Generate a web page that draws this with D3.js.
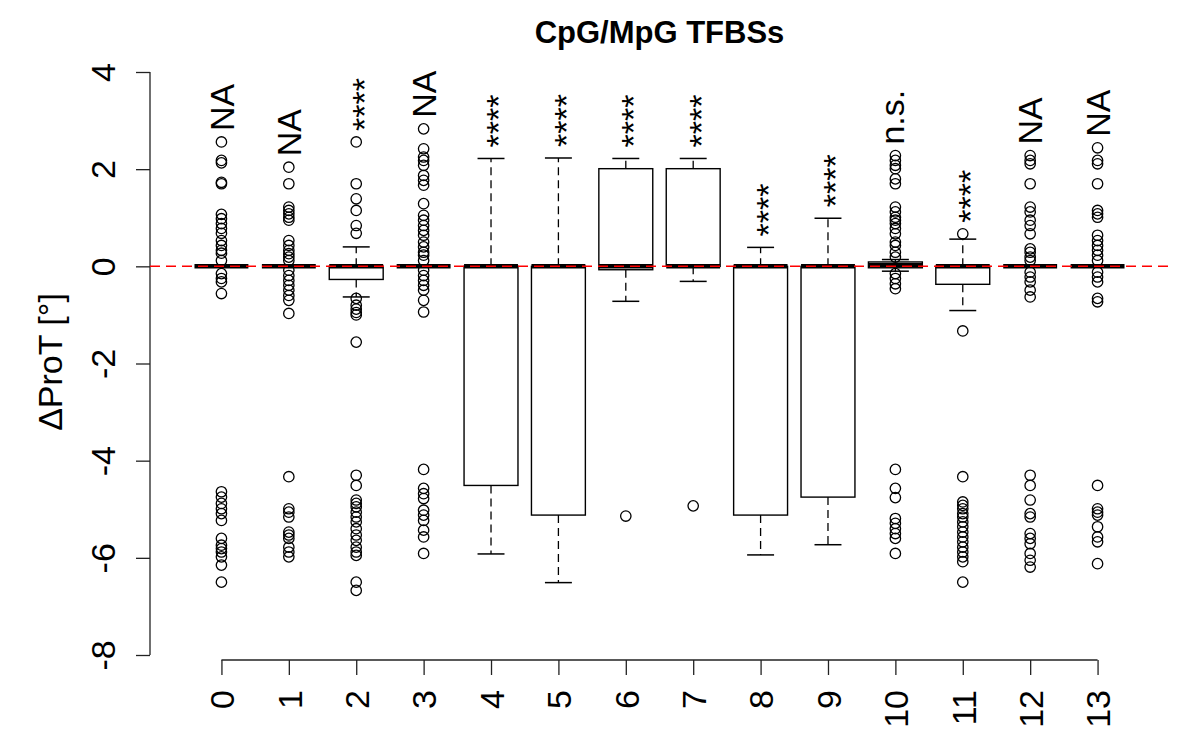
<!DOCTYPE html>
<html>
<head>
<meta charset="utf-8">
<script src="https://cdn.jsdelivr.net/npm/d3@7"></script>
<style>
  html, body { margin: 0; padding: 0; background: #fff; }
  svg { display: block; font-family: "Liberation Sans", Arial, Helvetica, sans-serif; }
</style>
</head>
<body>
<svg id="chart" width="1200" height="750"></svg>
<script>
// ---------- data ----------
const categories = ["0","1","2","3","4","5","6","7","8","9","10","11","12","13"];
const q1          = [0, 0, -0.27, 0, -4.51, -5.12, -0.07, 0, -5.12, -4.75, -0.03, -0.37, 0, 0];
const medians     = [0, 0, 0, 0, 0, 0, 0, 0, 0, 0, 0.02, 0, 0, 0];
const q3          = [0, 0, 0, 0, 0, 0, 2.01, 2.01, 0, 0, 0.09, 0, 0, 0];
const whiskerLow  = [0, 0, -0.63, 0, -5.92, -6.51, -0.72, -0.31, -5.94, -5.73, -0.10, -0.91, 0, 0];
const whiskerHigh = [0, 0, 0.40, 0, 2.22, 2.23, 2.22, 2.22, 0.39, 0.99, 0.14, 0.56, 0, 0];
const outliers = [
  [2.56, 2.18, 2.13, 1.73, 1.70, 1.07, 0.98, 0.88, 0.78, 0.68, 0.53, 0.43, 0.33, 0.27, 0.12,
   -0.15, -0.25, -0.32, -0.56,
   -4.64, -4.75, -4.88, -4.99, -5.09, -5.23, -5.60, -5.74, -5.81, -5.88, -5.98, -6.15, -6.50],
  [2.04, 1.70, 1.22, 1.15, 1.08, 1.01, 0.95, 0.53, 0.43, 0.33, 0.26, 0.19, 0.12,
   -0.08, -0.19, -0.29, -0.39, -0.49, -0.60, -0.70, -0.97,
   -4.33, -4.99, -5.06, -5.16, -5.47, -5.53, -5.60, -5.78, -5.88, -5.98],
  [2.56, 1.70, 1.39, 1.15, 0.84, 0.68,
   -0.66, -0.80, -0.88, -0.95, -1.00, -1.56,
   -4.30, -4.51, -4.81, -4.88, -4.95, -5.06, -5.16, -5.26, -5.40, -5.53, -5.64, -5.78, -5.88, -5.95, -6.50, -6.67],
  [2.83, 2.42, 2.25, 2.18, 2.08, 1.87, 1.77, 1.67, 1.29, 1.05, 0.95, 0.84, 0.74, 0.64, 0.50, 0.40, 0.29, 0.23, 0.12,
   -0.08, -0.19, -0.29, -0.39, -0.49, -0.70, -0.94,
   -4.18, -4.57, -4.68, -4.78, -5.02, -5.12, -5.23, -5.43, -5.57, -5.91],
  [],
  [],
  [-5.14],
  [-4.93],
  [],
  [],
  [2.28, 2.18, 2.08, 2.01, 1.80, 1.70, 1.22, 1.12, 1.01, 0.95, 0.88, 0.78, 0.67, 0.50, 0.43, 0.29, 0.19,
   -0.15, -0.25, -0.36, -0.46,
   -4.18, -4.57, -4.76, -5.19, -5.29, -5.40, -5.50, -5.60, -5.91],
  [0.67, -1.33,
   -4.33, -4.85, -4.92, -4.99, -5.09, -5.16, -5.26, -5.36, -5.47, -5.57, -5.67, -5.78, -5.88, -5.98, -6.08, -6.50],
  [2.28, 2.18, 2.11, 1.70, 1.22, 1.12, 0.95, 0.84, 0.67, 0.36, 0.29, 0.19, 0.12,
   -0.12, -0.22, -0.32, -0.49, -0.63,
   -4.30, -4.51, -4.81, -5.09, -5.16, -5.50, -5.60, -5.71, -5.91, -6.05, -6.19],
  [2.44, 2.18, 2.11, 1.70, 1.15, 1.08, 1.01, 0.64, 0.53, 0.43, 0.33, 0.23, 0.12,
   -0.12, -0.22, -0.32, -0.66, -0.73,
   -4.51, -4.99, -5.06, -5.12, -5.36, -5.57, -5.67, -6.12]
];
const annotations = ["NA","NA","****","NA","****","****","****","****","****","****","n.s.","****","NA","NA"];
const yTicks = [-8, -6, -4, -2, 0, 2, 4];
const titleText = "CpG/MpG TFBSs";
const yLabel = "\u0394ProT [\u00B0]";

// ---------- layout ----------
const svg = d3.select("#chart");
const plotLeft = 150, plotRight = 1169;
const x = d3.scaleLinear().domain([-1.06, 14.06]).range([plotLeft, plotRight]);
const y = d3.scaleLinear().domain([-8, 4]).range([655, 72]);
const boxHalf = x(0.4) - x(0);
const capHalf = boxHalf / 2;
const fontSize = 34;

// title
svg.append("text")
  .attr("x", (plotLeft + plotRight) / 2).attr("y", 43)
  .attr("text-anchor", "middle")
  .attr("font-weight", "bold").attr("font-size", 31)
  .text(titleText);

// y axis
const yAxisG = svg.append("g").attr("transform", `translate(${plotLeft},0)`)
  .call(d3.axisLeft(y).tickValues(yTicks).tickSize(14).tickSizeOuter(0).tickFormat(d => String(d)));
yAxisG.select(".domain").attr("d", `M0,${y(4)}V${y(-8)}`).attr("stroke", "#222").attr("stroke-width", 1.3);
yAxisG.selectAll(".tick line").attr("stroke", "#222").attr("stroke-width", 1.3);
yAxisG.selectAll(".tick text")
  .attr("font-size", fontSize).attr("fill", "#000")
  .attr("x", null).attr("dy", null)
  .attr("text-anchor", "middle")
  .attr("transform", "translate(-35,0) rotate(-90)");
yAxisG.attr("font-family", null);

// y label
svg.append("text")
  .attr("transform", `translate(62,362) rotate(-90)`)
  .attr("text-anchor", "middle").attr("font-size", fontSize)
  .text(yLabel);

// x axis
const xAxisY = 660;
const xAxisG = svg.append("g").attr("transform", `translate(0,${xAxisY})`)
  .call(d3.axisBottom(x).tickValues(d3.range(categories.length)).tickSize(15).tickSizeOuter(0)
    .tickFormat(i => categories[i]));
xAxisG.select(".domain").attr("d", `M${x(0)},0H${x(categories.length - 1)}`).attr("stroke", "#222").attr("stroke-width", 1.3);
xAxisG.selectAll(".tick line").attr("stroke", "#222").attr("stroke-width", 1.3);
xAxisG.selectAll(".tick text")
  .attr("font-size", fontSize).attr("fill", "#000")
  .attr("y", null).attr("dy", "0.36em")
  .attr("text-anchor", "end")
  .attr("transform", "translate(0,30) rotate(-90)");
xAxisG.attr("font-family", null);

// boxes
const groups = svg.append("g");
categories.forEach((c, i) => {
  const cx = x(i);
  const g = groups.append("g");
  // whiskers (dashed)
  g.append("line").attr("x1", cx).attr("x2", cx).attr("y1", y(q3[i])).attr("y2", y(whiskerHigh[i]))
    .attr("stroke", "#000").attr("stroke-width", 1.3).attr("stroke-dasharray", "8,5");
  g.append("line").attr("x1", cx).attr("x2", cx).attr("y1", y(q1[i])).attr("y2", y(whiskerLow[i]))
    .attr("stroke", "#000").attr("stroke-width", 1.3).attr("stroke-dasharray", "8,5");
  // staples
  [whiskerHigh[i], whiskerLow[i]].forEach(v => {
    g.append("line").attr("x1", cx - capHalf).attr("x2", cx + capHalf).attr("y1", y(v)).attr("y2", y(v))
      .attr("stroke", "#000").attr("stroke-width", 1.5);
  });
  // box
  g.append("rect").attr("x", cx - boxHalf).attr("width", 2 * boxHalf)
    .attr("y", y(q3[i])).attr("height", Math.max(0, y(q1[i]) - y(q3[i])))
    .attr("fill", "#fff").attr("stroke", "#000").attr("stroke-width", 1.4);
  // median
  g.append("line").attr("x1", cx - boxHalf).attr("x2", cx + boxHalf).attr("y1", y(medians[i])).attr("y2", y(medians[i]))
    .attr("stroke", "#000").attr("stroke-width", 4.5);
  // outliers
  g.selectAll("circle").data(outliers[i]).enter().append("circle")
    .attr("cx", cx).attr("cy", v => y(v)).attr("r", 5.2)
    .attr("fill", "none").attr("stroke", "#000").attr("stroke-width", 1.3);
});

// reference line at 0
svg.append("line").attr("x1", plotLeft).attr("x2", plotRight).attr("y1", y(0)).attr("y2", y(0))
  .attr("stroke", "#ff0000").attr("stroke-width", 1.5).attr("stroke-dasharray", "10,6");

// annotations
const dyFor = t => t === "****" ? "0.57em" : (t === "n.s." ? "0.26em" : "0.36em");
categories.forEach((c, i) => {
  const top = d3.max([whiskerHigh[i], q3[i], ...outliers[i]]);
  svg.append("text")
    .attr("transform", `translate(${x(i)},${y(top) - 11}) rotate(-90)`)
    .attr("text-anchor", "start").attr("dy", dyFor(annotations[i]))
    .attr("font-size", fontSize)
    .text(annotations[i]);
});
</script>
</body>
</html>
